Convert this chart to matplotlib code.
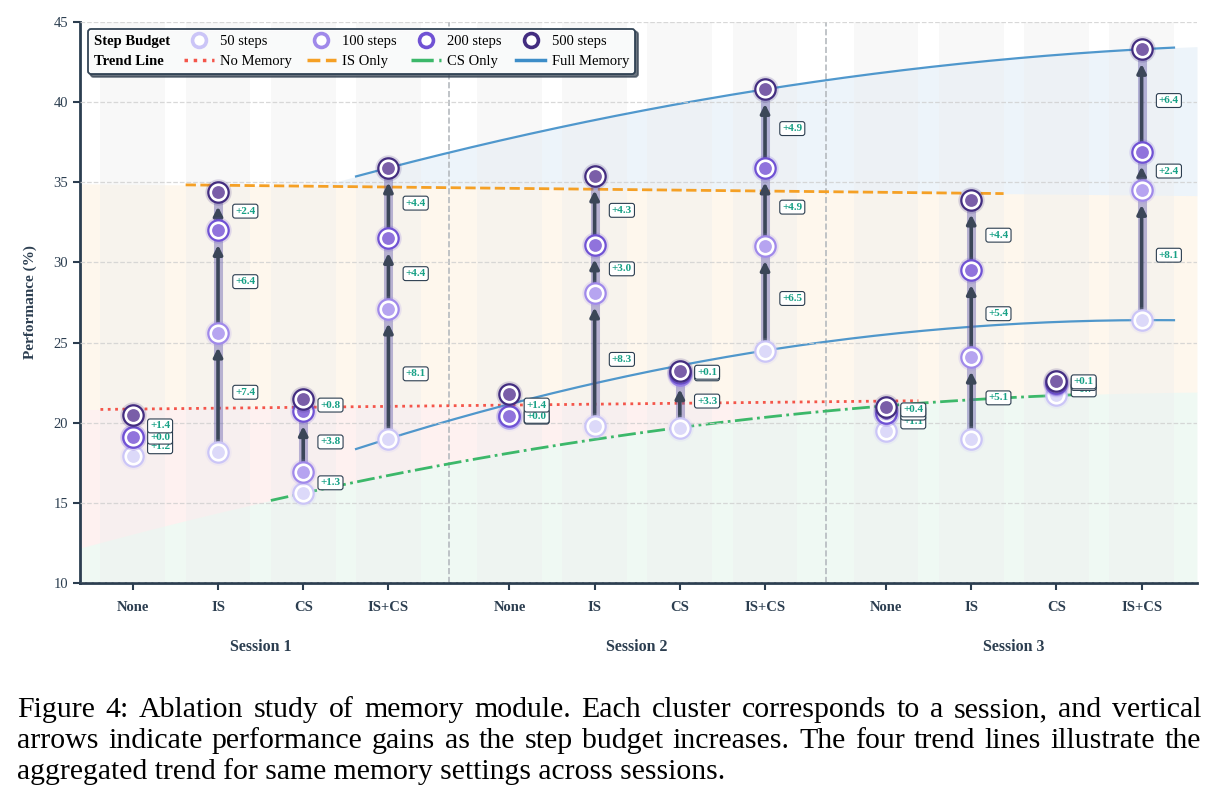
import numpy as np
import matplotlib
matplotlib.use("Agg")
import matplotlib.pyplot as plt
from matplotlib.lines import Line2D
from matplotlib import transforms

plt.rcParams["font.family"] = ["Liberation Serif", "DejaVu Serif"]

categories = ["None", "IS", "CS", "IS+CS"]
sessions = ["Session 1", "Session 2", "Session 3"]
step_labels = ["50 steps", "100 steps", "200 steps", "500 steps"]

# performance (%) per step budget, session-major: S1 None..IS+CS, S2 ..., S3 ...
perf_50 = [17.9, 18.2, 15.6, 19.0, 20.3, 19.8, 19.7, 24.5, 19.5, 19.0, 21.7, 26.4]
perf_100 = [19.1, 25.6, 16.9, 27.1, 20.4, 28.1, 23.0, 31.0, 20.6, 24.1, 22.4, 34.5]
perf_200 = [19.1, 32.0, 20.7, 31.5, 20.4, 31.1, 23.1, 35.9, 20.6, 29.5, 22.5, 36.9]
perf_500 = [20.5, 34.4, 21.5, 35.9, 21.8, 35.4, 23.2, 40.8, 21.0, 33.9, 22.6, 43.3]

caption = [
    "Figure 4: Ablation study of memory module. Each cluster corresponds to a session, and vertical",
    "arrows indicate performance gains as the step budget increases. The four trend lines illustrate the",
    "aggregated trend for same memory settings across sessions.",
]

DARK = "#2c3e50"
ring_colors = ["#cbc5f7", "#a089ea", "#7052d4", "#432d80"]
fill_colors = ["#dcd9f9", "#b6a4f0", "#9073dc", "#7a5ea8"]
trend_colors = {"nm": "#f4554a", "is": "#f5a025", "cs": "#3cb86a", "fm": "#3d8dc8"}

SESSION_GAP = 1.42
HALF = 0.38


def justify(fig, text, y, x0, x1, **kw):
    # spread the words of one caption line between x0 and x1 (figure coords)
    r = fig.canvas.get_renderer()
    words = [fig.text(0, y, w, **kw) for w in text.split()]
    widths = [t.get_window_extent(r).width / fig.bbox.width for t in words]
    gap = (x1 - x0 - sum(widths)) / (len(words) - 1)
    x = x0
    for t, w in zip(words, widths):
        t.set_x(x)
        x += w + gap


def main():
    perf = np.array([perf_50, perf_100, perf_200, perf_500])
    n_cat = len(categories)
    step = n_cat - 1 + SESSION_GAP
    xs = np.array([s * step + i for s in range(len(sessions)) for i in range(n_cat)])

    fig = plt.figure(figsize=(12.18, 8.05), dpi=100)
    ax = fig.add_axes([80 / 1218, 1 - 583 / 805, 1117 / 1218, 561 / 805])
    xlim = (-0.62, 12.49)
    ax.set_xlim(*xlim)
    ax.set_ylim(10, 45)

    # column stripes
    for x in xs:
        ax.axvspan(x - HALF, x + HALF, color="#eeeeee", alpha=0.4, lw=0, zorder=0.6)

    # trend lines (fits through the session points of each setting)
    xfull = np.linspace(*xlim, 400)

    def trend(idx, values, deg):
        p = np.polyfit(xs[idx], values, deg)
        xl = np.linspace(xs[idx][0] - HALF, xs[idx][-1] + HALF, 200)
        return np.poly1d(p), xl

    nm, x_nm = trend(slice(0, None, 4), perf[3, 0::4], 1)
    is_, x_is = trend(slice(1, None, 4), perf[3, 1::4], 1)
    cs, x_cs = trend(slice(2, None, 4), perf[0, 2::4], 2)
    fm_lo, x_fm = trend(slice(3, None, 4), perf[0, 3::4], 2)
    fm_hi, _ = trend(slice(3, None, 4), perf[3, 3::4], 2)

    y_cs = cs(xfull)
    y_nm = np.maximum(nm(xfull), y_cs)
    y_is = is_(xfull)
    y_fm = np.maximum(fm_hi(xfull), y_is)
    ax.fill_between(xfull, 10, y_cs, color=trend_colors["cs"], alpha=0.08, lw=0, zorder=0.5)
    ax.fill_between(xfull, y_cs, y_nm, color=trend_colors["nm"], alpha=0.08, lw=0, zorder=0.5)
    ax.fill_between(xfull, y_nm, y_is, color=trend_colors["is"], alpha=0.08, lw=0, zorder=0.5)
    ax.fill_between(xfull, y_is, y_fm, color=trend_colors["fm"], alpha=0.09, lw=0, zorder=0.5)

    ax.plot(x_nm, nm(x_nm), ":", color=trend_colors["nm"], lw=2, zorder=2)
    ax.plot(x_is, is_(x_is), "--", color=trend_colors["is"], lw=2, zorder=2)
    ax.plot(x_cs, cs(x_cs), "-.", color=trend_colors["cs"], lw=2, zorder=2)
    ax.plot(x_fm, fm_lo(x_fm), "-", color=trend_colors["fm"], lw=1.6, alpha=0.9, zorder=2)
    ax.plot(x_fm, fm_hi(x_fm), "-", color=trend_colors["fm"], lw=1.6, alpha=0.9, zorder=2)

    # session separators
    for s in range(1, len(sessions)):
        ax.axvline(s * step - SESSION_GAP / 2, color="#b5babf", ls="--", lw=1.2, zorder=1)

    # arrows and gain labels
    for j, x in enumerate(xs):
        for k in range(3):
            lo, hi = perf[k, j], perf[k + 1, j]
            gain = hi - lo
            if gain >= 1.5:
                ax.plot([x, x], [lo, hi], color="#6a62b0", lw=6.5, alpha=0.45, solid_capstyle="butt", zorder=3)
                ax.annotate("", xy=(x, hi), xytext=(x, lo),
                            arrowprops=dict(arrowstyle="-|>", color="#3b4658", lw=2.6,
                                            shrinkA=0, shrinkB=10.5, mutation_scale=13),
                            zorder=3.2)
            ax.text(x + 0.32, (lo + hi) / 2, f"+{gain:.1f}", fontsize=8, fontweight="bold",
                    color="#16a085", ha="center", va="center", zorder=6,
                    bbox=dict(boxstyle="round,pad=0.22", fc="white", ec=DARK, lw=0.8))

    # markers
    for k in range(4):
        ax.scatter(xs, perf[k], s=360, color=ring_colors[k], alpha=0.18, lw=0, zorder=4)
        ax.scatter(xs, perf[k], s=215, facecolor="white", edgecolor=ring_colors[k], linewidths=1.6, zorder=4)
        ax.scatter(xs, perf[k], s=85, color=fill_colors[k], lw=0, zorder=4)

    # axes styling
    for side in ("top", "right"):
        ax.spines[side].set_visible(False)
    for side in ("left", "bottom"):
        ax.spines[side].set_color(DARK)
        ax.spines[side].set_linewidth(2)
    ax.set_yticks(range(10, 46, 5))
    ax.set_xticks(xs)
    ax.set_xticklabels(categories * len(sessions), fontweight="bold", fontsize=10.5, color=DARK)
    ax.tick_params(axis="both", colors=DARK, width=1.5, length=5, labelsize=10.5)
    ax.tick_params(axis="x", pad=8)
    ax.yaxis.grid(True, ls="--", color="#cfcfcf", lw=0.9, alpha=0.8, zorder=1)
    ax.set_axisbelow(False)
    ax.set_ylabel("Performance (%)", fontsize=11, fontweight="bold", color=DARK, labelpad=12)

    trans = transforms.blended_transform_factory(ax.transData, ax.transAxes)
    for s, name in enumerate(sessions):
        ax.text(xs[s * n_cat:(s + 1) * n_cat].mean(), -0.114, name, transform=trans,
                ha="center", va="center", fontsize=11.5, fontweight="bold", color=DARK)

    # legend
    blank = Line2D([], [], linestyle="none")
    markers = [Line2D([], [], linestyle="none", marker="o", markersize=10, markerfacecolor="white",
                      markeredgecolor=c, markeredgewidth=2.6) for c in ring_colors]
    lines = [Line2D([], [], color=trend_colors["nm"], ls=":", lw=2.5),
             Line2D([], [], color=trend_colors["is"], ls="--", lw=2.5),
             Line2D([], [], color=trend_colors["cs"], ls="-.", lw=2.5),
             Line2D([], [], color=trend_colors["fm"], ls="-", lw=2.5)]
    line_labels = ["No Memory", "IS Only", "CS Only", "Full Memory"]
    handles = [blank, blank]
    labels = ["Step Budget", "Trend Line"]
    for m, ml, l, ll in zip(markers, step_labels, lines, line_labels):
        handles += [m, l]
        labels += [ml, ll]
    leg = ax.legend(handles, labels, ncol=5, loc="upper left", bbox_to_anchor=(0.007, 0.988),
                    borderaxespad=0, fontsize=10.5, frameon=True, fancybox=True,
                    edgecolor=DARK, framealpha=0.97, handletextpad=0.45, columnspacing=1.0,
                    labelspacing=0.5, borderpad=0.4, shadow={"color": "#3a4756", "alpha": 0.75})
    leg.get_frame().set_linewidth(1.3)
    leg.set_zorder(10)
    for t in leg.get_texts()[:2]:
        t.set_fontweight("bold")
    for item in leg._legend_handle_box.get_children()[0].get_children():
        item.get_children()[0].set_visible(False)

    # caption (first two lines justified like the paper)
    ys = (0.1093, 0.0708, 0.0323)
    x0, x1 = 17 / 1218, 1201 / 1218
    for line, y in zip(caption[:2], ys[:2]):
        justify(fig, line, y, x0, x1, fontsize=21.5, va="baseline", color="black")
    fig.text(x0, ys[2], caption[2], fontsize=21.3, va="baseline", ha="left", color="black")

    fig.savefig("out.png", dpi=100)


if __name__ == "__main__":
    main()
